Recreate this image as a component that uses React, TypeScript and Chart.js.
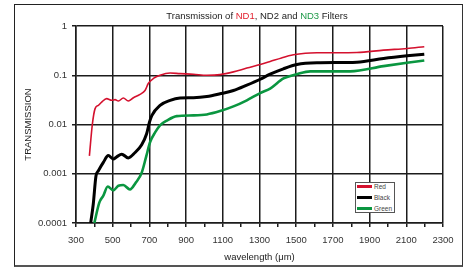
import React, { useEffect, useRef } from "react";
import { Chart, registerables } from "chart.js";

Chart.register(...registerables);

// ---- data ----
const redWavelengths = [373, 389, 404, 422, 440, 467, 495, 513, 531, 558, 585, 613, 649, 676, 694, 722, 758, 813, 867, 940, 1013, 1085, 1158, 1231, 1304, 1358, 1420, 1485, 1550, 1613, 1700, 1831, 1976, 2104, 2198];
const redValues = [0.0023, 0.01, 0.021, 0.0245, 0.0286, 0.0335, 0.031, 0.032, 0.03, 0.0345, 0.03, 0.035, 0.041, 0.049, 0.068, 0.086, 0.1, 0.111, 0.108, 0.105, 0.1, 0.103, 0.117, 0.14, 0.165, 0.19, 0.225, 0.26, 0.28, 0.286, 0.287, 0.29, 0.324, 0.35, 0.38];

const blackWavelengths = [380, 394, 409, 422, 449, 476, 503, 522, 549, 585, 622, 658, 685, 700, 713, 758, 813, 867, 940, 1013, 1085, 1158, 1231, 1304, 1358, 1430, 1504, 1613, 1831, 1976, 2104, 2198];
const blackValues = [0.0001, 0.00024, 0.00091, 0.00115, 0.0017, 0.00234, 0.002, 0.0022, 0.0025, 0.0021, 0.0027, 0.0039, 0.0065, 0.011, 0.0152, 0.0245, 0.031, 0.0345, 0.035, 0.037, 0.042, 0.049, 0.063, 0.083, 0.105, 0.135, 0.165, 0.179, 0.184, 0.219, 0.248, 0.268];

const greenWavelengths = [400, 427, 449, 473, 503, 531, 558, 594, 627, 658, 682, 704, 731, 758, 795, 849, 940, 1013, 1085, 1158, 1231, 1304, 1358, 1431, 1504, 1576, 1794, 1976, 2104, 2198];
const greenValues = [0.0001, 0.00026, 0.00036, 0.00055, 0.00046, 0.00057, 0.00059, 0.00048, 0.00067, 0.00105, 0.0022, 0.0044, 0.0069, 0.0096, 0.012, 0.0148, 0.0153, 0.016, 0.0187, 0.0233, 0.031, 0.0435, 0.0535, 0.086, 0.105, 0.12, 0.12, 0.153, 0.18, 0.2];

const seriesNames = ["Red", "Black", "Green"];
const seriesColors = ["#d4112e", "#000000", "#0a9640"];
const seriesWidths = [1.6, 3, 2.6];

const yTickValues = [0.0001, 0.001, 0.01, 0.1, 1];
const yTickLabels = ["0.0001", "0.001", "0.01", "0.1", "1"];
const xMin = 300;
const xMax = 2300;
const xMinorStep = 100;
const xMajorStep = 200;

const FONT = "'Liberation Sans', Arial, Helvetica, sans-serif";
const GRID = "#1c1c1c";

function pts(xs: number[], ys: number[]) {
  return xs.map((x, i) => ({ x, y: ys[i] }));
}

export default function App() {
  const ref = useRef<HTMLCanvasElement>(null);

  useEffect(() => {
    const series = [
      pts(redWavelengths, redValues),
      pts(blackWavelengths, blackValues),
      pts(greenWavelengths, greenValues),
    ];
    const chart = new Chart(ref.current!, {
      type: "line",
      data: {
        datasets: series.map((d, i) => ({
          label: seriesNames[i],
          data: d,
          borderColor: seriesColors[i],
          backgroundColor: seriesColors[i],
          borderWidth: seriesWidths[i],
          pointRadius: 0,
          cubicInterpolationMode: "monotone" as const,
          fill: false,
        })),
      },
      options: {
        animation: false,
        responsive: false,
        devicePixelRatio: 1,
        layout: { padding: { left: 14, right: 22, top: 26, bottom: 0 } },
        plugins: {
          legend: { display: false },
          tooltip: { enabled: false },
          title: { display: false },
        },
        scales: {
          x: {
            type: "linear",
            min: xMin,
            max: xMax,
            afterFit: (s: any) => {
              s.height = 46;
            },
            ticks: {
              stepSize: xMinorStep,
              autoSkip: false,
              maxRotation: 0,
              padding: 8,
              color: "#333",
              font: { family: FONT, size: 9.5 },
              callback: (v: any) =>
                (Number(v) - xMin) % xMajorStep === 0 ? String(v) : "",
            },
            grid: {
              color: (c: any) =>
                (c.tick.value - xMin) % xMajorStep === 0 ? GRID : "rgba(0,0,0,0)",
              tickColor: GRID,
              lineWidth: 1.5,
              tickLength: 4,
            },
            border: { color: GRID, width: 1.5 },
            title: {
              display: true,
              text: "wavelength (\u03bcm)",
              color: "#222",
              font: { family: FONT, size: 9.5 },
              padding: { top: 0, bottom: 6 },
            },
          },
          y: {
            type: "logarithmic",
            min: 0.0001,
            max: 1,
            afterFit: (s: any) => {
              s.width = 62;
            },
            afterBuildTicks: (s: any) => {
              s.ticks = yTickValues.map((v) => ({ value: v }));
            },
            ticks: {
              padding: 5,
              color: "#333",
              font: { family: FONT, size: 9.5 },
              callback: (v: any) => {
                const i = yTickValues.indexOf(Number(v));
                return i >= 0 ? yTickLabels[i] : "";
              },
            },
            grid: {
              color: GRID,
              lineWidth: 1.5,
              tickLength: 4,
            },
            border: { color: GRID, width: 1.5 },
            title: {
              display: true,
              text: "TRANSMISSION",
              color: "#222",
              font: { family: FONT, size: 9.5 },
              padding: { top: 9, bottom: 0 },
            },
          },
        },
      },
    });
    return () => chart.destroy();
  }, []);

  return (
    <div
      style={{
        position: "absolute",
        left: 0,
        top: 0,
        width: 465,
        height: 269,
        background: "#fff",
        fontFamily: FONT,
        overflow: "hidden",
      }}
    >
      <div
        style={{
          position: "absolute",
          left: 14,
          top: 4,
          width: 447,
          height: 260,
          borderTop: "1px solid #222",
          borderLeft: "1px solid #222",
          borderRight: "1px solid #333",
          borderBottom: "2px solid #555",
        }}
      />
      <canvas
        ref={ref}
        width={465}
        height={269}
        style={{ position: "absolute", left: 0, top: 0, width: 465, height: 269 }}
      />
      <div
        style={{
          position: "absolute",
          left: 57,
          top: 10,
          width: 400,
          textAlign: "center",
          fontSize: 9.5,
          lineHeight: "11px",
          color: "#222",
          whiteSpace: "nowrap",
        }}
      >
        Transmission of <span style={{ color: "#e3202e" }}>ND1</span>, ND2 and{" "}
        <span style={{ color: "#1e9a48" }}>ND3</span> Filters
      </div>
      <div
        style={{
          position: "absolute",
          left: 355,
          top: 182,
          width: 38,
          height: 29,
          border: "1px solid #555",
          background: "#fff",
        }}
      >
        {seriesNames.map((n, i) => (
          <div
            key={n}
            style={{
              position: "absolute",
              left: 1,
              top: -1 + i * 11,
              height: 9,
              width: 37,
              whiteSpace: "nowrap",
            }}
          >
            <div
              style={{
                position: "absolute",
                left: 0,
                top: 3,
                width: 15,
                height: 3,
                background: seriesColors[i],
              }}
            />
            <span
              style={{
                position: "absolute",
                left: 17,
                top: 0,
                fontSize: 6.5,
                lineHeight: "9px",
                color: "#444",
              }}
            >
              {n}
            </span>
          </div>
        ))}
      </div>
    </div>
  );
}
